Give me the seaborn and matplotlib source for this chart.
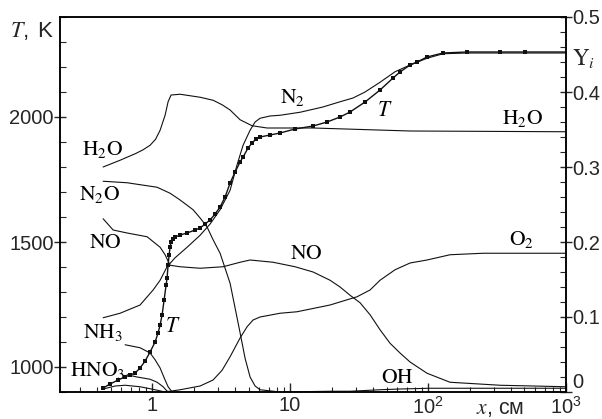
import numpy as np
import matplotlib
matplotlib.use("Agg")
import matplotlib.pyplot as plt
import matplotlib.ticker as mticker
import seaborn as sns

# temperature, K (left axis)
t_x = [0.4415, 0.4961, 0.567, 0.637, 0.693, 0.753, 0.818, 0.890, 0.967, 1.051, 1.105,
       1.143, 1.181, 1.222, 1.263, 1.284, 1.306, 1.328, 1.350, 1.373, 1.420, 1.468,
       1.596, 1.793, 2.049, 2.228, 2.421, 2.633, 2.861, 3.110, 3.381, 3.675, 3.995,
       4.342, 4.564, 4.962, 5.303, 5.669, 6.061, 7.164, 8.463, 10.87, 14.68, 18.54,
       23.03, 27.21, 34.95, 44.89, 55.78, 62.67, 74.06, 83.24, 98.35, 128.5, 191.7,
       332.5, 504.8, 1000]
t_k = [916, 932, 948, 960, 968, 976, 996, 1024, 1060, 1100, 1136,
       1168, 1208, 1268, 1328, 1356, 1408, 1448, 1480, 1500, 1512, 1520,
       1528, 1536, 1548, 1556, 1572, 1588, 1612, 1640, 1680, 1736, 1780,
       1820, 1840, 1876, 1896, 1912, 1920, 1928, 1936, 1952, 1964, 1980,
       2000, 2020, 2060, 2108, 2156, 2180, 2208, 2220, 2240, 2256, 2260,
       2260, 2260, 2260]

# mole fractions (right axis)
n2_x = [0.4415, 0.586, 0.818, 1.017, 1.143, 1.284, 1.468, 1.793, 2.228, 2.633, 3.110,
        3.675, 4.13, 4.564, 5.13, 5.577, 6.061, 7.164, 8.463, 11.82, 17.3, 23.03,
        28.6, 34.95, 44.89, 57.67, 74.06, 98.35, 128.5, 191.7, 1000]
n2_y = [0.099, 0.105, 0.116, 0.136, 0.149, 0.167, 0.179, 0.193, 0.209, 0.224, 0.243,
        0.269, 0.303, 0.329, 0.349, 0.360, 0.365, 0.368, 0.369, 0.373, 0.380, 0.387,
        0.392, 0.400, 0.413, 0.427, 0.436, 0.445, 0.451, 0.452, 0.452]

h2o_x = [0.4415, 0.586, 0.761, 0.861, 0.967, 1.060, 1.143, 1.242, 1.306, 1.373, 1.596,
         2.228, 2.767, 3.215, 3.675, 4.342, 5.303, 6.813, 14.68, 74.06, 1000]
h2o_y = [0.300, 0.309, 0.318, 0.323, 0.329, 0.337, 0.349, 0.369, 0.387, 0.396, 0.397,
         0.393, 0.389, 0.383, 0.376, 0.363, 0.355, 0.352, 0.352, 0.348, 0.347]

n2o_x = [0.4415, 0.659, 1.087, 1.350, 1.596, 1.982, 2.228, 2.503, 2.767, 3.110, 3.381,
         3.675, 3.995, 4.342, 4.72, 5.13, 5.577, 6.061, 8.463]
n2o_y = [0.281, 0.279, 0.273, 0.265, 0.256, 0.243, 0.232, 0.220, 0.203, 0.185, 0.165,
         0.145, 0.112, 0.079, 0.045, 0.020, 0.008, 0.003, 0.0]

no_x = [0.4415, 0.522, 0.659, 0.920, 1.143, 1.242, 1.350, 1.596, 2.228, 3.270, 4.342,
        5.13, 7.53, 10.87, 14.68, 19.49, 23.03, 27.21, 32.16, 37.99, 44.89, 53.03,
        62.67, 74.06, 98.35, 144.3, 332.5, 1000]
no_y = [0.231, 0.216, 0.212, 0.207, 0.193, 0.183, 0.169, 0.167, 0.165, 0.167, 0.173,
        0.176, 0.173, 0.167, 0.160, 0.149, 0.140, 0.129, 0.119, 0.103, 0.083, 0.065,
        0.052, 0.040, 0.025, 0.013, 0.009, 0.007]

o2_x = [1.143, 1.350, 1.596, 2.228, 2.767, 3.215, 3.675, 4.342, 4.88, 5.393, 6.061,
        8.463, 11.24, 19.49, 30.59, 37.99, 44.89, 57.67, 74.06, 98.35, 144.3, 250.4, 1000]
o2_y = [0.0, 0.001, 0.003, 0.008, 0.016, 0.029, 0.047, 0.072, 0.087, 0.096, 0.100,
        0.105, 0.107, 0.116, 0.127, 0.136, 0.149, 0.163, 0.172, 0.176, 0.183, 0.185, 0.185]

nh3_x = [0.637, 0.818, 0.967, 1.051, 1.143, 1.242, 1.306, 1.396]
nh3_y = [0.063, 0.059, 0.052, 0.043, 0.032, 0.016, 0.007, 0.0]

hno3_x = [0.659, 0.778, 0.967, 1.087, 1.202, 1.284, 1.350]
hno3_y = [0.023, 0.020, 0.017, 0.013, 0.007, 0.001, 0.0]

minor_x = [0.4415, 0.540, 0.637, 0.818, 1.051, 1.242]
minor_y = [0.004, 0.008, 0.009, 0.007, 0.003, 0.0]

oh_x = [9.0, 19.49, 27.21, 44.89, 62.67, 103.0, 200.0, 1000]
oh_y = [0.0, 0.001, 0.001, 0.003, 0.004, 0.005, 0.005, 0.005]

sns.set_style("ticks")
plt.rcParams["font.family"] = ["Liberation Sans", "DejaVu Sans"]
plt.rcParams["mathtext.fontset"] = "stix"

fig = plt.figure(figsize=(6.02, 4.19), dpi=100)
ax = fig.add_axes([60 / 602, 1 - 392 / 419, 506 / 602, 375 / 419])
ax2 = ax.twinx()

lc = "#111111"
lw = 0.8
sns.lineplot(x=t_x, y=t_k, ax=ax, color=lc, lw=1.0, marker="s", markersize=2.4,
             markeredgewidth=0, markevery=list(range(len(t_x) - 1)))
for xs, ys in [(n2_x, n2_y), (h2o_x, h2o_y), (n2o_x, n2o_y), (no_x, no_y),
               (o2_x, o2_y), (nh3_x, nh3_y), (hno3_x, hno3_y), (minor_x, minor_y),
               (oh_x, oh_y)]:
    sns.lineplot(x=xs, y=ys, ax=ax2, color=lc, lw=lw)

ax.set_xscale("log")
ax.set_xlim(0.215, 1000)
ax.set_ylim(900, 2400)
ax2.set_ylim(0, 0.5)

ax.xaxis.set_major_locator(mticker.FixedLocator([1, 10, 100, 1000]))
ax.xaxis.set_major_formatter(mticker.FixedFormatter(
    ["1", "10", r"$\mathdefault{10^2}$", r"$\mathdefault{10^3}$"]))
ax.xaxis.set_minor_locator(mticker.LogLocator(base=10, subs=np.arange(2, 10)))
ax.xaxis.set_minor_formatter(mticker.NullFormatter())

ax.yaxis.set_major_locator(mticker.FixedLocator([1000, 1500, 2000]))
ax.yaxis.set_minor_locator(mticker.MultipleLocator(100))
ax2.yaxis.set_major_locator(mticker.FixedLocator([0, 0.1, 0.2, 0.3, 0.4, 0.5]))
ax2.yaxis.set_major_formatter(mticker.FixedFormatter(["0", "0.1", "0.2", "0.3", "0.4", "0.5"]))
ax2.yaxis.set_minor_locator(mticker.MultipleLocator(0.02))

fs = 14.5
ax.tick_params(axis="x", which="major", direction="in", length=6.5, width=1.0,
               labelsize=fs, pad=3, top=False)
ax.tick_params(axis="x", which="minor", direction="in", length=3.6, width=0.8, top=False)
ax.tick_params(axis="y", which="major", direction="inout", length=8, width=1.0,
               labelsize=fs, pad=0.5)
ax.tick_params(axis="y", which="minor", direction="in", length=4.3, width=0.8)
ax2.tick_params(axis="y", which="major", direction="inout", length=8, width=1.0,
                labelsize=fs, pad=0.5)
ax2.tick_params(axis="y", which="minor", direction="in", length=4.3, width=0.8)
ax2.get_yticklabels()[0].set_va("bottom")

for a in (ax, ax2):
    for s in a.spines.values():
        s.set_visible(True)
        s.set_linewidth(1.1)
        s.set_color("black")

ax.set_xlabel("")
ax.set_ylabel("")
ax2.set_ylabel("")

ax.text(-0.056, 0.962, r"$\mathit{T}$$\mathdefault{,\ K}$", transform=ax.transAxes,
        fontsize=fs + 1.5, ha="center", va="center")
ax.text(1.034, 0.89, r"$\mathrm{Y}_i$", transform=ax.transAxes, fontsize=fs + 2,
        ha="center", va="center")
ax.text(0.87, -0.043, r"$x$, см", transform=ax.transAxes, fontsize=fs + 1,
        ha="center", va="center")

sfs = 15.5
labels = [
    (0.44, 0.323, r"$\mathrm{H_2O}$"),
    (0.42, 0.263, r"$\mathrm{N_2O}$"),
    (0.456, 0.199, r"$\mathrm{NO}$"),
    (0.44, 0.079, r"$\mathrm{NH_3}$"),
    (0.406, 0.029, r"$\mathrm{HNO_3}$"),
    (1.42, 0.087, r"$T$"),
    (10.34, 0.393, r"$\mathrm{N_2}$"),
    (48.8, 0.376, r"$T$"),
    (488, 0.365, r"$\mathrm{H_2O}$"),
    (13.06, 0.185, r"$\mathrm{NO}$"),
    (472, 0.203, r"$\mathrm{O_2}$"),
    (59.6, 0.019, r"$\mathrm{OH}$"),
]
for lx, ly, s in labels:
    ax2.text(lx, ly, s, fontsize=sfs, ha="center", va="center", color="black")

fig.savefig("out.png", dpi=100)
